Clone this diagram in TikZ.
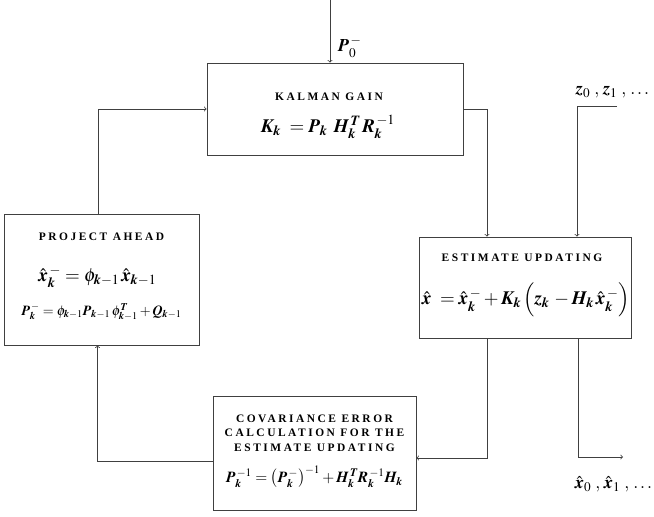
\documentclass[tikz,border=0pt]{standalone}
\usepackage{mathptmx}
\usepackage{fontspec}
\setmainfont{Liberation Serif}
\DeclareSymbolFont{bitletters}{OT1}{ptm}{b}{it}
\DeclareMathSymbol{K}{\mathalpha}{bitletters}{`K}
\DeclareMathSymbol{P}{\mathalpha}{bitletters}{`P}
\DeclareMathSymbol{H}{\mathalpha}{bitletters}{`H}
\DeclareMathSymbol{R}{\mathalpha}{bitletters}{`R}
\DeclareMathSymbol{Q}{\mathalpha}{bitletters}{`Q}
\DeclareMathSymbol{T}{\mathalpha}{bitletters}{`T}
\DeclareMathSymbol{x}{\mathalpha}{bitletters}{`x}
\DeclareMathSymbol{z}{\mathalpha}{bitletters}{`z}
\DeclareMathSymbol{k}{\mathalpha}{bitletters}{`k}
\newcommand{\eqsize}[1]{\fontsize{#1}{#1}\selectfont}
\begin{document}
\begin{tikzpicture}[x=1bp,y=-1bp,>=to,
  box/.style={draw=black!75,line width=0.8bp,rectangle,inner sep=0pt},
  ttl/.style={align=center,inner sep=0pt,font=\fontsize{11.5}{14.5}\selectfont\bfseries\addfontfeature{LetterSpace=22}},
  eq/.style={inner sep=0pt},
  wire/.style={draw=black!75,line width=0.8bp,->}]
  \useasboundingbox (0,0) rectangle (654,517);
  \node[box,minimum width=256bp,minimum height=92bp] (gain) at (335,109) {};
  \node[box,minimum width=195bp,minimum height=131bp] (proj) at (101.5,279.5) {};
  \node[box,minimum width=212bp,minimum height=101bp] (est) at (525,287.5) {};
  \node[box,minimum width=203bp,minimum height=114bp] (cov) at (314.5,453) {};
  \node[ttl] (gaint) at ([xshift=-6bp,yshift=12bp]gain.center) {KALMAN GAIN};
  \node[eq] (gaineq) at ([xshift=-7bp,yshift=-18bp]gain.center) {\eqsize{19}$K_k\; = P_k\;\, H_k^{\,T}\, R_k^{\,-1}$};
  \node[ttl] (projt) at ([yshift=42.5bp]proj.center) {PROJECT AHEAD};
  \node[eq] (projeqa) at ([xshift=-4bp,yshift=2.5bp]proj.center) {\eqsize{19}$\hat{x}_k^{\,-} = \phi_{k-1}\,\hat{x}_{k-1}$};
  \node[eq] (projeqb) at ([yshift=-32.5bp]proj.center) {\eqsize{14}$P_k^{\,-} = \phi_{k-1}P_{k-1}\,\phi_{k-1}^T + Q_{k-1}$};
  \node[ttl] (estt) at ([xshift=-3bp,yshift=29.5bp]est.center) {ESTIMATE UPDATING};
  \node[eq] (esteq) at ([xshift=1bp,yshift=-12.5bp]est.center) {\eqsize{19}$\hat{x}\; = \hat{x}_k^{\,-} + K_k\,\Big(z_k\, - H_k\,\hat{x}_k^{\,-}\Big)$};
  \node[ttl] (covt) at ([yshift=20bp]cov.center) {COVARIANCE ERROR\\CALCULATION FOR THE\\ESTIMATE UPDATING};
  \node[eq] (coveq) at ([yshift=-24bp]cov.center) {\eqsize{15.5}$P_k^{\,-1} = \left(P_k^{\,-}\right)^{-1} + H_k^{\,T} R_k^{\,-1} H_k$};
  \coordinate (pin) at (330,0);
  \coordinate (zin) at (617,106);
  \coordinate (xout) at (623,457);
  \node[eq,anchor=west] (p0) at (338,47) {\eqsize{18}$P_0^{\,-}$};
  \node[eq,anchor=west] (zlab) at (576,92) {\eqsize{18}$z_0\;, \,z_1\;, \,\ldots$};
  \node[eq,anchor=west] (xlab) at (575,484) {\eqsize{18}$\hat{x}_0\;, \,\hat{x}_1\;, \,\ldots$};
  \draw[wire] (pin) -- (pin |- gain.north);
  \draw[wire] (gain.east) -| ([xshift=-38bp]est.north);
  \draw[wire] (zin) -| ([xshift=52bp]est.north);
  \draw[wire] ([xshift=-38bp]est.south) |- ([yshift=-5bp]cov.east);
  \draw[wire] ([xshift=53bp]est.south) |- (xout);
  \draw[wire] ([yshift=-8bp]cov.west) -| ([xshift=-4bp]proj.south);
  \draw[wire] ([xshift=-3bp]proj.north) |- (gain.west);
\end{tikzpicture}
\end{document}
